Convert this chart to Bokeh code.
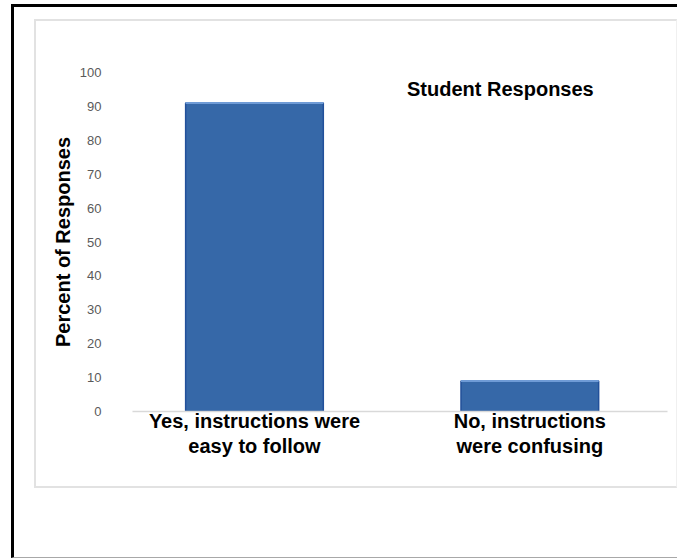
from bokeh.plotting import figure
from bokeh.models import Range1d, FixedTicker, Label, ColumnDataSource, InlineStyleSheet
from bokeh.embed import file_html
from bokeh.resources import INLINE

# Survey results
categories = ["Yes, instructions were\neasy to follow", "No, instructions\nwere confusing"]
percent = [91, 9]
y_ticks = [0, 10, 20, 30, 40, 50, 60, 70, 80, 90, 100]

positions = list(range(len(categories)))
half = 0.25
source = ColumnDataSource(data=dict(
    x=positions, top=percent,
    x0=[x - half for x in positions], x1=[x + half for x in positions],
))

p = figure(
    width=677, height=559,
    x_range=Range1d(-0.443, 1.5), y_range=Range1d(0, 100),
    output_backend="svg", toolbar_location=None,
    min_border_left=132, min_border_right=10,
    min_border_top=72, min_border_bottom=148,
)
p.outline_line_color = None
p.background_fill_color = "white"
p.border_fill_color = "white"
p.grid.grid_line_color = None

# Page frame (black, open on the right) and the chart panel (light grey)
p.stylesheets = [InlineStyleSheet(css="""
:host { position: relative; overflow: hidden; }
:host::before {
  content: ""; position: absolute; z-index: 5; pointer-events: none;
  left: 11px; top: 4px; width: 720px; height: 554px;
  border-style: solid none solid solid;
  border-width: 3px 0 1px 3px;
  border-color: #000 transparent #a8a8a8 #000;
  box-sizing: border-box;
}
:host::after {
  content: ""; position: absolute; z-index: 5; pointer-events: none;
  left: 34px; top: 19px; width: 643px; height: 469px;
  border-style: solid;
  border-width: 2px 1px 2px 2px;
  border-color: #e2e2e2 #f0f0f0 #e2e2e2 #e2e2e2;
  box-sizing: border-box;
}
""")]

p.vbar(x="x", top="top", width=2 * half, bottom=0, source=source,
       fill_color="#3668a8", line_color="#22509a", line_width=1.5)
# light rim along the top of each bar
p.segment(x0="x0", x1="x1", y0="top", y1="top", source=source,
          line_color="#6f9bd6", line_width=2)

# Y axis
p.yaxis.ticker = FixedTicker(ticks=y_ticks)
p.yaxis.axis_line_color = None
p.yaxis.major_tick_line_color = None
p.yaxis.minor_tick_line_color = None
p.yaxis.major_label_standoff = 25
p.yaxis.major_label_text_font = "Liberation Sans"
p.yaxis.major_label_text_font_size = "13px"
p.yaxis.major_label_text_color = "#5a5a5a"
p.yaxis.axis_label = "Percent of Responses"
p.yaxis.axis_label_text_font = "Liberation Sans"
p.yaxis.axis_label_text_font_style = "bold"
p.yaxis.axis_label_text_font_size = "20px"
p.yaxis.axis_label_text_color = "black"
p.yaxis.axis_label_standoff = 3

# X axis with category names
p.xaxis.ticker = FixedTicker(ticks=positions)
p.xaxis.major_label_overrides = {i: c for i, c in zip(positions, categories)}
p.xaxis.axis_line_color = "#d9d9d9"
p.xaxis.axis_line_width = 1.5
p.xaxis.major_tick_line_color = None
p.xaxis.minor_tick_line_color = None
p.xaxis.major_label_standoff = -8
p.xaxis.major_label_text_font = "Liberation Sans"
p.xaxis.major_label_text_font_style = "bold"
p.xaxis.major_label_text_font_size = "20px"
p.xaxis.major_label_text_color = "black"
p.xaxis.major_label_text_line_height = 1.15

title = Label(x=0.893, y=95, text="Student Responses",
              text_font="Liberation Sans", text_font_style="bold",
              text_font_size="20px", text_color="black",
              text_align="center", text_baseline="middle")
p.add_layout(title)

open("out.html", "w").write(file_html(p, INLINE))
